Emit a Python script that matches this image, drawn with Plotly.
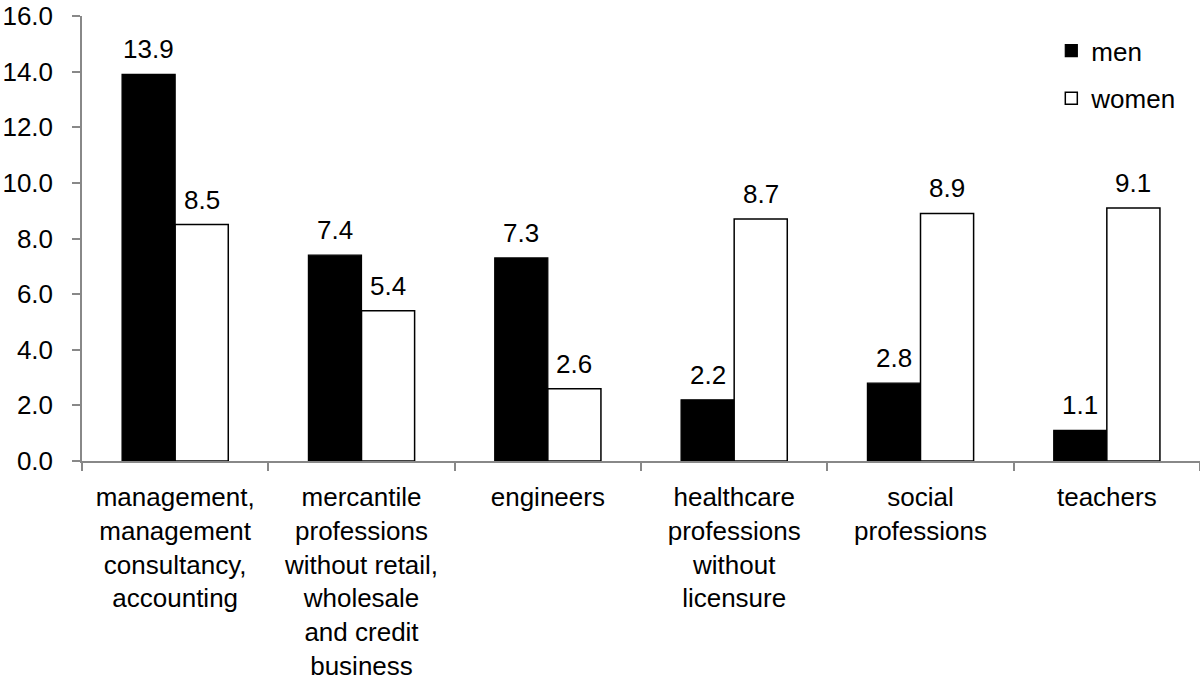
import plotly.graph_objects as go

categories = [
    "management,<br>management<br>consultancy,<br>accounting",
    "mercantile<br>professions<br>without retail,<br>wholesale<br>and credit<br>business",
    "engineers",
    "healthcare<br>professions<br>without<br>licensure",
    "social<br>professions",
    "teachers",
]
men = [13.9, 7.4, 7.3, 2.2, 2.8, 1.1]
women = [8.5, 5.4, 2.6, 8.7, 8.9, 9.1]

FONT = "Liberation Sans, Arial, Helvetica, sans-serif"
FS = 26

fig = go.Figure()
fig.add_trace(go.Bar(
    name="men", x=categories, y=men, legendgroup="m",
    marker=dict(color="black", line=dict(color="black", width=1.2)),
))
fig.add_trace(go.Bar(
    name="women", x=categories, y=women, legendgroup="w",
    marker=dict(color="white", line=dict(color="black", width=1.5)),
))

# value labels above bars
for series, shift in ((men, -26.5), (women, 26.5)):
    for cat, v in zip(categories, series):
        fig.add_annotation(
            x=cat, y=v, xref="x", yref="y", text=f"{v:.1f}",
            showarrow=False, xanchor="center", yanchor="bottom",
            xshift=shift, yshift=8,
            font=dict(size=FS, family=FONT, color="black"),
        )

fig.update_layout(
    width=1200, height=682,
    margin=dict(l=82, r=0, t=16, b=221),
    plot_bgcolor="white", paper_bgcolor="white",
    font=dict(family=FONT, size=FS, color="black"),
    barmode="group", bargap=0.43, bargroupgap=0,
    showlegend=True,
    legend=dict(x=0.867, y=0.975, xanchor="left", yanchor="top",
                font=dict(size=FS, family=FONT), tracegroupgap=11,
                bgcolor="rgba(0,0,0,0)"),
)
fig.update_xaxes(
    showline=True, linecolor="#888888", linewidth=1.5,
    ticks="outside", tickson="boundaries", ticklen=8, tickcolor="#888888", tickwidth=1.5,
    tickangle=0, tickfont=dict(size=FS, family=FONT, color="black"), ticklabelstandoff=12,
    showgrid=False, range=[-0.5, 5.5], automargin=False, ticklabeloverflow="allow",
)
fig.update_yaxes(
    range=[0, 16], dtick=2, tickformat=".1f",
    showline=True, linecolor="#888888", linewidth=1.5,
    ticks="outside", ticklen=8, tickcolor="#888888", tickwidth=1.5,
    tickfont=dict(size=FS, family=FONT, color="black"), ticklabelstandoff=14,
    showgrid=False, zeroline=False, automargin=False, ticklabeloverflow="allow",
)

fig.write_html(
    "out.html",
    config={"displayModeBar": False},
    post_script="document.body.style.margin='0';document.body.style.overflow='hidden';",
)
